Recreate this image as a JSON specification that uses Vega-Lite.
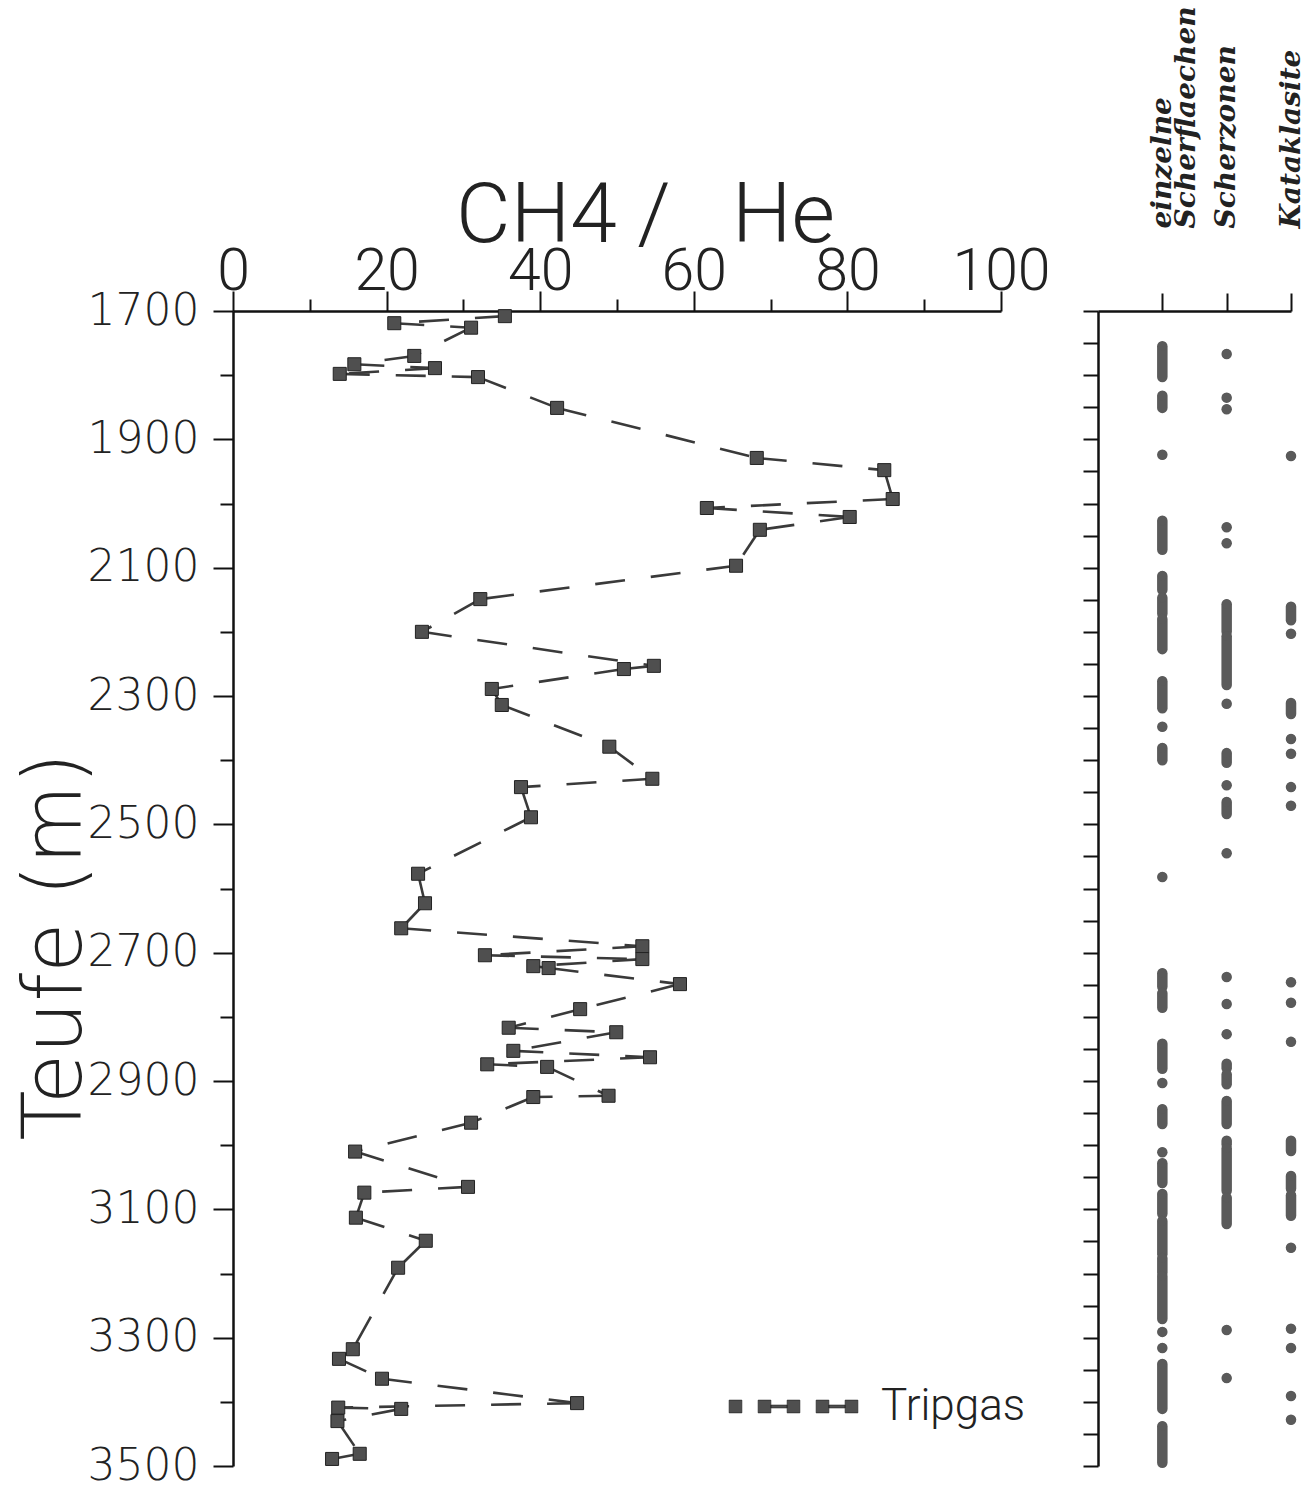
{
  "$schema": "https://vega.github.io/schema/vega-lite/v6.json",
  "autosize": {"type": "pad"},
  "padding": {"left": 14, "top": 5, "right": 5, "bottom": 5},
  "background": "white",
  "datasets": {
    "tripgas": [
      {"depth": 1708, "ratio": 35.4}, {"depth": 1719, "ratio": 21.0}, {"depth": 1726, "ratio": 31.0},
      {"depth": 1770, "ratio": 23.6}, {"depth": 1783, "ratio": 15.8}, {"depth": 1789, "ratio": 26.3},
      {"depth": 1798, "ratio": 13.9}, {"depth": 1803, "ratio": 31.9}, {"depth": 1851, "ratio": 42.2},
      {"depth": 1929, "ratio": 68.2}, {"depth": 1948, "ratio": 84.8}, {"depth": 1993, "ratio": 85.9},
      {"depth": 2007, "ratio": 61.7}, {"depth": 2021, "ratio": 80.3}, {"depth": 2041, "ratio": 68.6},
      {"depth": 2097, "ratio": 65.5}, {"depth": 2149, "ratio": 32.2}, {"depth": 2200, "ratio": 24.6},
      {"depth": 2253, "ratio": 54.8}, {"depth": 2258, "ratio": 50.9}, {"depth": 2289, "ratio": 33.7},
      {"depth": 2314, "ratio": 35.0}, {"depth": 2379, "ratio": 49.0}, {"depth": 2429, "ratio": 54.6},
      {"depth": 2442, "ratio": 37.5}, {"depth": 2489, "ratio": 38.8}, {"depth": 2577, "ratio": 24.1},
      {"depth": 2623, "ratio": 25.0}, {"depth": 2662, "ratio": 21.9}, {"depth": 2690, "ratio": 53.3},
      {"depth": 2704, "ratio": 32.8}, {"depth": 2710, "ratio": 53.3}, {"depth": 2721, "ratio": 39.1},
      {"depth": 2724, "ratio": 41.1}, {"depth": 2749, "ratio": 58.2}, {"depth": 2788, "ratio": 45.2},
      {"depth": 2817, "ratio": 35.9}, {"depth": 2824, "ratio": 49.9}, {"depth": 2853, "ratio": 36.5},
      {"depth": 2863, "ratio": 54.3}, {"depth": 2874, "ratio": 33.1}, {"depth": 2878, "ratio": 40.9},
      {"depth": 2923, "ratio": 48.9}, {"depth": 2925, "ratio": 39.1}, {"depth": 2965, "ratio": 31.0},
      {"depth": 3010, "ratio": 15.9}, {"depth": 3065, "ratio": 30.6}, {"depth": 3074, "ratio": 17.1},
      {"depth": 3113, "ratio": 16.0}, {"depth": 3149, "ratio": 25.1}, {"depth": 3191, "ratio": 21.5},
      {"depth": 3318, "ratio": 15.6}, {"depth": 3333, "ratio": 13.8}, {"depth": 3364, "ratio": 19.4},
      {"depth": 3402, "ratio": 44.8}, {"depth": 3409, "ratio": 13.7}, {"depth": 3411, "ratio": 21.9},
      {"depth": 3430, "ratio": 13.6}, {"depth": 3481, "ratio": 16.5}, {"depth": 3489, "ratio": 12.9}
    ],
    "struktur": [
      {"typ": "einzelne Scherflaechen", "von": 1755, "bis": 1803},
      {"typ": "einzelne Scherflaechen", "von": 1832, "bis": 1851},
      {"typ": "einzelne Scherflaechen", "von": 1924, "bis": 1924},
      {"typ": "einzelne Scherflaechen", "von": 2027, "bis": 2072},
      {"typ": "einzelne Scherflaechen", "von": 2113, "bis": 2135},
      {"typ": "einzelne Scherflaechen", "von": 2147, "bis": 2172},
      {"typ": "einzelne Scherflaechen", "von": 2180, "bis": 2227},
      {"typ": "einzelne Scherflaechen", "von": 2277, "bis": 2319},
      {"typ": "einzelne Scherflaechen", "von": 2348, "bis": 2348},
      {"typ": "einzelne Scherflaechen", "von": 2381, "bis": 2400},
      {"typ": "einzelne Scherflaechen", "von": 2582, "bis": 2582},
      {"typ": "einzelne Scherflaechen", "von": 2732, "bis": 2753},
      {"typ": "einzelne Scherflaechen", "von": 2763, "bis": 2786},
      {"typ": "einzelne Scherflaechen", "von": 2842, "bis": 2881},
      {"typ": "einzelne Scherflaechen", "von": 2903, "bis": 2903},
      {"typ": "einzelne Scherflaechen", "von": 2944, "bis": 2967},
      {"typ": "einzelne Scherflaechen", "von": 3011, "bis": 3011},
      {"typ": "einzelne Scherflaechen", "von": 3028, "bis": 3059},
      {"typ": "einzelne Scherflaechen", "von": 3076, "bis": 3107},
      {"typ": "einzelne Scherflaechen", "von": 3118, "bis": 3170},
      {"typ": "einzelne Scherflaechen", "von": 3176, "bis": 3199},
      {"typ": "einzelne Scherflaechen", "von": 3204, "bis": 3271},
      {"typ": "einzelne Scherflaechen", "von": 3291, "bis": 3291},
      {"typ": "einzelne Scherflaechen", "von": 3316, "bis": 3316},
      {"typ": "einzelne Scherflaechen", "von": 3341, "bis": 3411},
      {"typ": "einzelne Scherflaechen", "von": 3438, "bis": 3495},
      {"typ": "Scherzonen", "von": 1767, "bis": 1767},
      {"typ": "Scherzonen", "von": 1835, "bis": 1835},
      {"typ": "Scherzonen", "von": 1853, "bis": 1853},
      {"typ": "Scherzonen", "von": 2037, "bis": 2037},
      {"typ": "Scherzonen", "von": 2062, "bis": 2062},
      {"typ": "Scherzonen", "von": 2157, "bis": 2200},
      {"typ": "Scherzonen", "von": 2207, "bis": 2283},
      {"typ": "Scherzonen", "von": 2312, "bis": 2312},
      {"typ": "Scherzonen", "von": 2389, "bis": 2404},
      {"typ": "Scherzonen", "von": 2439, "bis": 2439},
      {"typ": "Scherzonen", "von": 2465, "bis": 2484},
      {"typ": "Scherzonen", "von": 2545, "bis": 2545},
      {"typ": "Scherzonen", "von": 2738, "bis": 2738},
      {"typ": "Scherzonen", "von": 2780, "bis": 2780},
      {"typ": "Scherzonen", "von": 2827, "bis": 2827},
      {"typ": "Scherzonen", "von": 2873, "bis": 2880},
      {"typ": "Scherzonen", "von": 2890, "bis": 2905},
      {"typ": "Scherzonen", "von": 2931, "bis": 2967},
      {"typ": "Scherzonen", "von": 2993, "bis": 2999},
      {"typ": "Scherzonen", "von": 3005, "bis": 3071},
      {"typ": "Scherzonen", "von": 3082, "bis": 3123},
      {"typ": "Scherzonen", "von": 3288, "bis": 3288},
      {"typ": "Scherzonen", "von": 3363, "bis": 3363},
      {"typ": "Kataklasite", "von": 1926, "bis": 1926},
      {"typ": "Kataklasite", "von": 2161, "bis": 2182},
      {"typ": "Kataklasite", "von": 2203, "bis": 2203},
      {"typ": "Kataklasite", "von": 2311, "bis": 2328},
      {"typ": "Kataklasite", "von": 2367, "bis": 2367},
      {"typ": "Kataklasite", "von": 2390, "bis": 2390},
      {"typ": "Kataklasite", "von": 2442, "bis": 2442},
      {"typ": "Kataklasite", "von": 2471, "bis": 2471},
      {"typ": "Kataklasite", "von": 2746, "bis": 2746},
      {"typ": "Kataklasite", "von": 2778, "bis": 2778},
      {"typ": "Kataklasite", "von": 2839, "bis": 2839},
      {"typ": "Kataklasite", "von": 2993, "bis": 3009},
      {"typ": "Kataklasite", "von": 3048, "bis": 3068},
      {"typ": "Kataklasite", "von": 3078, "bis": 3110},
      {"typ": "Kataklasite", "von": 3160, "bis": 3160},
      {"typ": "Kataklasite", "von": 3286, "bis": 3286},
      {"typ": "Kataklasite", "von": 3316, "bis": 3316},
      {"typ": "Kataklasite", "von": 3391, "bis": 3391},
      {"typ": "Kataklasite", "von": 3428, "bis": 3428}
    ]
  },
  "spacing": 97,
  "bounds": "flush",
  "hconcat": [
    {
      "width": 768,
      "height": 1155,
      "data": {"name": "tripgas"},
      "layer": [
        {
          "transform": [
            {"window": [{"op": "lead", "field": "ratio", "as": "ratio2"}, {"op": "lead", "field": "depth", "as": "depth2"}], "sort": [{"field": "depth", "order": "ascending"}]},
            {"filter": "isValid(datum.depth2)"}
          ],
          "mark": {"type": "rule", "strokeDash": [30, 26], "strokeWidth": 2.6, "color": "#3a3a3a"},
          "encoding": {
            "x": {
              "field": "ratio", "type": "quantitative",
              "scale": {"domain": [0, 100], "nice": false, "zero": true},
              "axis": {
                "orient": "top",
                "values": [0, 5, 10, 15, 20, 25, 30, 35, 40, 45, 50, 55, 60, 65, 70, 75, 80, 85, 90, 95, 100],
                "labelExpr": "datum.value % 20 === 0 ? datum.label : ''",
                "tickSize": {"condition": {"test": "datum.value % 20 === 0", "value": 20}, "value": 12},
                "labelFont": "Roboto",
                "labelFontWeight": 300,
                "labelFontSize": 59,
                "labelPadding": -10,
                "labelFlush": false,
                "labelOverlap": false,
                "title": "CH4\u00a0/\u00a0\u00a0\u00a0He",
                "titleFont": "Roboto",
                "titleFontWeight": 300,
                "titleFontSize": 84,
                "titleX": 412,
                "titleY": -70,
                "titleAlign": "center",
                "titleBaseline": "alphabetic"
              }
            },
            "y": {
              "field": "depth", "type": "quantitative",
              "scale": {"domain": [1700, 3500], "reverse": true, "nice": false, "zero": false},
              "axis": {
                "values": [1700, 1750, 1800, 1850, 1900, 1950, 2000, 2050, 2100, 2150, 2200, 2250, 2300, 2350, 2400, 2450, 2500, 2550, 2600, 2650, 2700, 2750, 2800, 2850, 2900, 2950, 3000, 3050, 3100, 3150, 3200, 3250, 3300, 3350, 3400, 3450, 3500],
                "format": "d",
                "labelExpr": "(datum.value - 1700) % 200 === 0 ? datum.label : ''",
                "tickSize": {"condition": {"test": "(datum.value - 1700) % 200 === 0", "value": 20}, "value": 13},
                "labelFont": "DejaVu Sans",
                "labelFontWeight": 200,
                "labelFontSize": 44,
                "labelPadding": 14,
                "labelOverlap": false,
                "labelFlush": false,
                "title": "Teufe (m)",
                "titleFont": "DejaVu Sans",
                "titleFontWeight": 200,
                "titleFontSize": 82,
                "titleX": -153,
                "titleY": 635,
                "titleAngle": -90,
                "titleAlign": "center",
                "titleBaseline": "alphabetic"
              }
            },
            "x2": {"field": "ratio2"},
            "y2": {"field": "depth2"}
          }
        },
        {
          "mark": {"type": "point", "shape": "square", "filled": true, "size": 170, "stroke": "#222222", "strokeWidth": 1, "opacity": 1},
          "encoding": {
            "x": {"field": "ratio", "type": "quantitative"},
            "y": {"field": "depth", "type": "quantitative"},
            "color": {
              "datum": "Tripgas", "type": "nominal",
              "scale": {"range": ["#4f4f4f"]},
              "legend": {
                "orient": "none",
                "legendX": 502,
                "legendY": 1037,
                "title": null,
                "padding": 0,
                "symbolType": "M-1.11,-0.11H-0.89V0.11H-1.11Z M-0.61,-0.11H-0.39V0.11H-0.61Z M-0.39,-0.025H-0.11V0.025H-0.39Z M-0.11,-0.11H0.11V0.11H-0.11Z M0.39,-0.11H0.61V0.11H0.39Z M0.61,-0.025H0.89V0.025H0.61Z M0.89,-0.11H1.11V0.11H0.89Z",
                "symbolSize": 13456,
                "symbolFillColor": "#4f4f4f",
                "symbolStrokeColor": "#222222",
                "symbolStrokeWidth": 0.6,
                "symbolOpacity": 1,
                "labelFontSize": 44,
                "labelFont": "Roboto",
                "labelFontWeight": 300,
                "labelColor": "#222222",
                "labelOffset": 29
              }
            }
          }
        }
      ]
    },
    {
      "width": 193,
      "height": 1155,
      "data": {"name": "struktur"},
      "encoding": {
        "x": {
          "field": "typ", "type": "nominal",
          "scale": {"type": "point", "domain": ["einzelne Scherflaechen", "Scherzonen", "Kataklasite"], "paddingOuter": 0.5, "align": 1},
          "axis": {
            "orient": "top",
            "title": null,
            "labelAngle": -90,
            "labelAlign": "left",
            "labelBaseline": "middle",
            "labelExpr": "datum.label == 'einzelne Scherflaechen' ? ['einzelne', 'Scherflaechen'] : datum.label",
            "labelFont": "DejaVu Serif",
            "labelFontStyle": "italic",
            "labelFontWeight": "bold",
            "labelFontSize": 28,
            "labelLineHeight": 24,
            "labelLimit": 500,
            "labelPadding": 65,
            "tickSize": 18
          }
        },
        "y": {
          "field": "von", "type": "quantitative",
          "scale": {"domain": [1700, 3500], "reverse": true, "nice": false, "zero": false},
          "axis": {
            "title": null,
            "labels": false,
            "tickSize": 15,
            "values": [1700, 1750, 1800, 1850, 1900, 1950, 2000, 2050, 2100, 2150, 2200, 2250, 2300, 2350, 2400, 2450, 2500, 2550, 2600, 2650, 2700, 2750, 2800, 2850, 2900, 2950, 3000, 3050, 3100, 3150, 3200, 3250, 3300, 3350, 3400, 3450, 3500]
          }
        }
      },
      "layer": [
        {"mark": {"type": "rule", "strokeWidth": 10.5, "strokeCap": "round", "color": "#5a5a5a"}, "encoding": {"y2": {"field": "bis"}}},
        {"mark": {"type": "circle", "size": 87, "color": "#5a5a5a", "opacity": 1}}
      ]
    }
  ],
  "config": {
    "view": {"stroke": null},
    "axis": {
      "domainColor": "#111111",
      "domainWidth": 2.5,
      "tickColor": "#111111",
      "tickWidth": 2,
      "labelColor": "#222222",
      "titleColor": "#222222",
      "grid": false,
      "labelFont": "Liberation Sans",
      "titleFont": "Liberation Sans",
      "titleFontWeight": "normal"
    }
  }
}
